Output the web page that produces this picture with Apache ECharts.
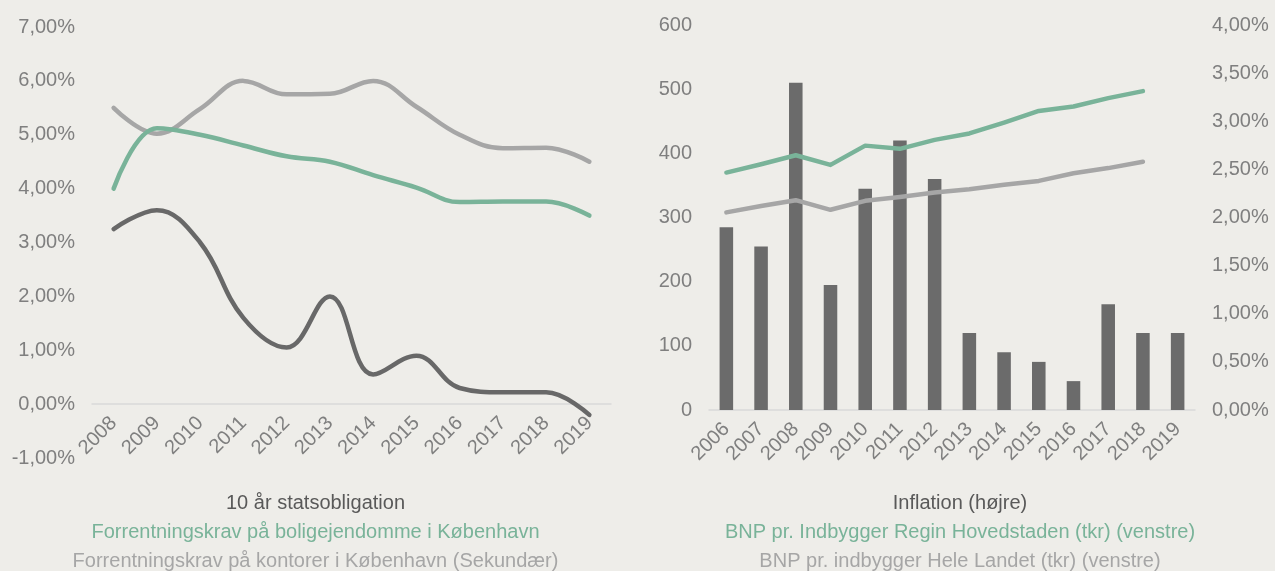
<!DOCTYPE html>
<html>
<head>
<meta charset="utf-8">
<script src="https://cdn.jsdelivr.net/npm/echarts@6/dist/echarts.min.js"></script>
<style>
  html, body { margin: 0; padding: 0; background: #eeede9; }
  #wrap { position: relative; width: 1275px; height: 571px; background: #eeede9; }
  #left { position: absolute; left: 0; top: 0; width: 626px; height: 571px; }
  #right { position: absolute; left: 640px; top: 0; width: 635px; height: 571px; }
</style>
</head>
<body>
<div id="wrap">
  <div id="left"></div>
  <div id="right"></div>
</div>
<script>
// --- Left chart: yields (%) ---
const yearsLeft = ['2008', '2009', '2010', '2011', '2012', '2013', '2014', '2015', '2016', '2017', '2018', '2019']
const statsobligation = [3.25, 3.6, 3.0, 1.6, 1.05, 2.0, 0.55, 0.9, 0.3, 0.22, 0.22, -0.2]
const boligKrav = [4.0, 5.12, 5.0, 4.8, 4.6, 4.5, 4.25, 4.02, 3.75, 3.76, 3.76, 3.5]
const kontorKrav = [5.5, 5.02, 5.48, 6.0, 5.75, 5.76, 6.0, 5.52, 5.0, 4.75, 4.76, 4.5]

// --- Right chart: BNP (tkr) and inflation (%) ---
const yearsRight = ['2006', '2007', '2008', '2009', '2010', '2011', '2012', '2013', '2014', '2015', '2016', '2017', '2018', '2019']
const inflation = [1.9, 1.7, 3.4, 1.3, 2.3, 2.8, 2.4, 0.8, 0.6, 0.5, 0.3, 1.1, 0.8, 0.8]
const bnpHovedstaden = [370, 383, 397, 382, 412, 407, 421, 431, 448, 466, 473, 486, 497, null]
const bnpLandet = [308, 318, 327, 312, 326, 332, 339, 344, 351, 357, 369, 377, 387, null]

const FONT = '"Liberation Sans", Arial, Helvetica, sans-serif'
const LABEL = '#7f7f7f'
const DARK = '#686868'
const GREEN = '#79b399'
const GRAY = '#a6a6a6'

function pct(v) {
  return v.toFixed(2).replace('.', ',') + '%'
}

function legendLine(name, color, top) {
  return {
    data: [name],
    left: 'center',
    top: top,
    icon: 'none',
    itemWidth: 0,
    itemHeight: 0,
    itemGap: 0,
    padding: 0,
    textStyle: { color: color, fontSize: 20, fontFamily: FONT }
  }
}

function catAxis(data, offset) {
  return {
    type: 'category',
    data: data,
    offset: offset,
    axisTick: { show: false },
    axisLine: { onZero: false, lineStyle: { color: '#d9d9d9', width: 1.5 } },
    axisLabel: { color: LABEL, fontSize: 20, fontFamily: FONT, rotate: 45, margin: 16, interval: 0 }
  }
}

const leftChart = echarts.init(document.getElementById('left'))
leftChart.setOption({
  backgroundColor: '#eeede9',
  animation: false,
  textStyle: { fontFamily: FONT },
  grid: { left: 92, right: 15, top: 27, bottom: 113 },
  legend: [
    legendLine('10 år statsobligation', '#595959', 493),
    legendLine('Forrentningskrav på boligejendomme i København', GREEN, 522),
    legendLine('Forrentningskrav på kontorer i København (Sekundær)', GRAY, 551)
  ],
  // axis sits on the 0% line, one step (431/8 px) above the bottom of the grid
  xAxis: catAxis(yearsLeft, -54),
  yAxis: {
    type: 'value',
    min: -1,
    max: 7,
    interval: 1,
    axisLine: { show: false },
    axisTick: { show: false },
    splitLine: { show: false },
    axisLabel: { color: LABEL, fontSize: 20, fontFamily: FONT, margin: 17, formatter: pct }
  },
  series: [
    {
      name: '10 år statsobligation',
      type: 'line',
      data: statsobligation,
      smooth: 0.4,
      showSymbol: false,
      lineStyle: { color: DARK, width: 4.5, cap: 'round' },
      itemStyle: { color: DARK }
    },
    {
      name: 'Forrentningskrav på kontorer i København (Sekundær)',
      type: 'line',
      data: kontorKrav,
      smooth: 0.4,
      showSymbol: false,
      lineStyle: { color: GRAY, width: 4.5, cap: 'round' },
      itemStyle: { color: GRAY }
    },
    {
      name: 'Forrentningskrav på boligejendomme i København',
      type: 'line',
      data: boligKrav,
      smooth: 0.4,
      showSymbol: false,
      lineStyle: { color: GREEN, width: 4.5, cap: 'round' },
      itemStyle: { color: GREEN }
    }
  ]
})

const rightChart = echarts.init(document.getElementById('right'))
rightChart.setOption({
  backgroundColor: '#eeede9',
  animation: false,
  textStyle: { fontFamily: FONT },
  grid: { left: 69, right: 80, top: 25, bottom: 161 },
  legend: [
    legendLine('Inflation (højre)', '#595959', 493),
    legendLine('BNP pr. Indbygger Regin Hovedstaden (tkr) (venstre)', GREEN, 522),
    legendLine('BNP pr. indbygger Hele Landet (tkr) (venstre)', GRAY, 551)
  ],
  xAxis: catAxis(yearsRight, 0),
  yAxis: [
    {
      type: 'value',
      min: 0,
      max: 600,
      interval: 100,
      axisLine: { show: false },
      axisTick: { show: false },
      splitLine: { show: false },
      axisLabel: { color: LABEL, fontSize: 20, fontFamily: FONT, margin: 17 }
    },
    {
      type: 'value',
      position: 'right',
      min: 0,
      max: 4,
      interval: 0.5,
      axisLine: { show: false },
      axisTick: { show: false },
      splitLine: { show: false },
      axisLabel: { color: LABEL, fontSize: 20, fontFamily: FONT, margin: 17, formatter: pct }
    }
  ],
  series: [
    {
      name: 'Inflation (højre)',
      type: 'bar',
      yAxisIndex: 1,
      data: inflation,
      barWidth: '39%',
      itemStyle: { color: '#6b6b6b' }
    },
    {
      name: 'BNP pr. Indbygger Regin Hovedstaden (tkr) (venstre)',
      type: 'line',
      yAxisIndex: 0,
      data: bnpHovedstaden,
      showSymbol: false,
      lineStyle: { color: GREEN, width: 4.5, cap: 'round', join: 'round' },
      itemStyle: { color: GREEN }
    },
    {
      name: 'BNP pr. indbygger Hele Landet (tkr) (venstre)',
      type: 'line',
      yAxisIndex: 0,
      data: bnpLandet,
      showSymbol: false,
      lineStyle: { color: GRAY, width: 4.5, cap: 'round', join: 'round' },
      itemStyle: { color: GRAY }
    }
  ]
})
</script>
</body>
</html>
